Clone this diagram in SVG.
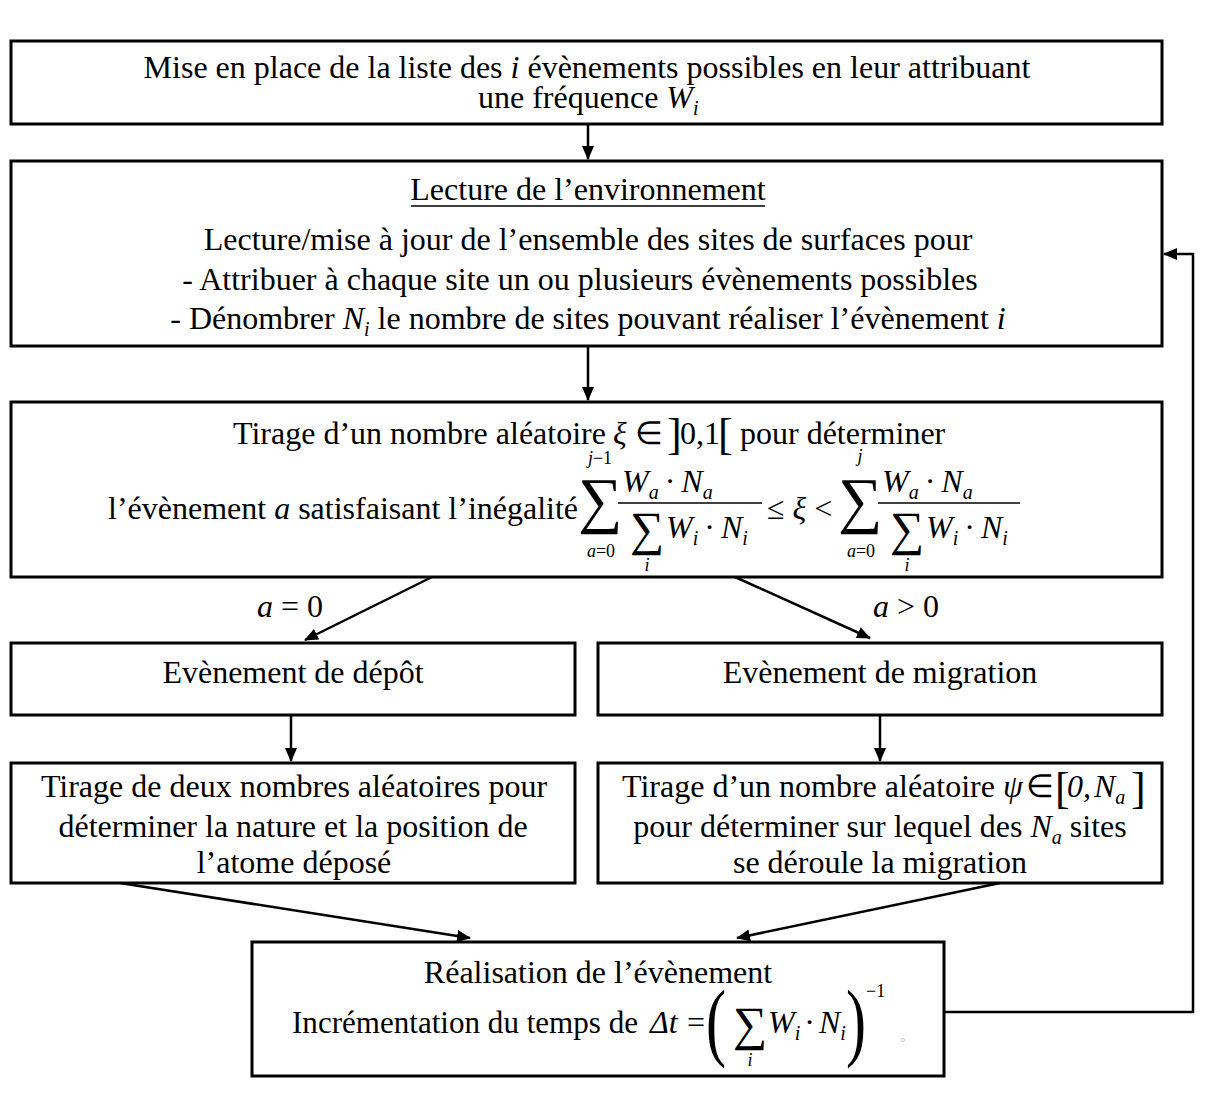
<svg xmlns="http://www.w3.org/2000/svg" width="1209" height="1101" viewBox="0 0 1209 1101">
  <style>
    .t { font-family: "Liberation Serif", "Times New Roman", serif; font-size: 32px; fill: #000; }
    .c { text-anchor: middle; }
    .i { font-style: italic; }
    .sub { font-size: 20px; }
    .lim { font-size: 18px; }
    .big { font-size: 44px; }
    .sum { font-size: 62px; }
    .sum2 { font-size: 48px; }
    .paren { font-size: 86px; }
    .box { fill: #fff; stroke: #000; stroke-width: 3; }
    .ln { fill: none; stroke: #000; stroke-width: 2.5; }
    .bar { stroke: #000; stroke-width: 1.6; }
  </style>
  <defs>
    <marker id="ah" markerWidth="14" markerHeight="12" refX="13" refY="6" orient="auto" markerUnits="userSpaceOnUse">
      <path d="M0,0 L14,6 L0,12 Z" fill="#000"/>
    </marker>
  </defs>

  <rect width="1209" height="1101" fill="#fff"/>

  <!-- connectors -->
  <g id="connectors">
    <line class="ln" x1="588" y1="124" x2="588" y2="159" marker-end="url(#ah)"/>
    <line class="ln" x1="588" y1="346" x2="588" y2="400" marker-end="url(#ah)"/>
    <line class="ln" x1="432" y1="577" x2="305" y2="640" marker-end="url(#ah)"/>
    <line class="ln" x1="735" y1="577" x2="870" y2="638" marker-end="url(#ah)"/>
    <line class="ln" x1="291" y1="715" x2="291" y2="761" marker-end="url(#ah)"/>
    <line class="ln" x1="880" y1="715" x2="880" y2="761" marker-end="url(#ah)"/>
    <line class="ln" x1="120" y1="883" x2="470" y2="938" marker-end="url(#ah)"/>
    <line class="ln" x1="1000" y1="883" x2="737" y2="938" marker-end="url(#ah)"/>
    <path class="ln" d="M945,1012 H1193 V254 H1164" marker-end="url(#ah)"/>
    <text class="t" x="257" y="617"><tspan class="i">a</tspan> = 0</text>
    <text class="t" x="873" y="617"><tspan class="i">a</tspan> &gt; 0</text>
  </g>

  <!-- step 1 -->
  <g id="n1">
    <rect class="box" x="11" y="41" width="1151" height="83"/>
    <text class="t c" x="587" y="78">Mise en place de la liste des <tspan class="i">i</tspan> évènements possibles en leur attribuant</text>
    <text class="t" x="478" y="108">une fréquence <tspan class="i">W</tspan><tspan class="i sub" dy="7">i</tspan></text>
  </g>

  <!-- step 2 -->
  <g id="n2">
    <rect class="box" x="11" y="161" width="1151" height="185"/>
    <text class="t c" x="588" y="200">Lecture de l’environnement</text>
    <line x1="411" y1="206" x2="765" y2="206" stroke="#000" stroke-width="1.6"/>
    <text class="t c" x="588" y="250">Lecture/mise à jour de l’ensemble des sites de surfaces pour</text>
    <text class="t c" x="580" y="290">- Attribuer à chaque site un ou plusieurs évènements possibles</text>
    <text class="t c" x="588" y="329">- Dénombrer <tspan class="i">N</tspan><tspan class="i sub" dy="7">i</tspan><tspan dy="-7"> le nombre de sites pouvant réaliser l’évènement </tspan><tspan class="i">i</tspan></text>
  </g>

  <!-- step 3 -->
  <g id="n3">
    <rect class="box" x="11" y="402" width="1151" height="175"/>
    <text class="t" x="233" y="444">Tirage d’un nombre aléatoire</text>
    <text class="t i" x="613" y="444">ξ</text>
    <text class="t" x="635" y="444">∈</text>
    <text class="t big" x="667" y="449">]</text>
    <text class="t" x="680" y="444">0,1</text>
    <text class="t big" x="718" y="449">[</text>
    <text class="t" x="740" y="444">pour déterminer</text>

    <text class="t" x="108" y="519">l’évènement <tspan class="i">a</tspan> satisfaisant l’inégalité</text>

    <!-- left sum -->
    <text class="t sum c" x="600" y="521">∑</text>
    <text class="t lim c" x="600" y="464"><tspan class="i">j</tspan>−1</text>
    <text class="t lim c" x="601" y="557"><tspan class="i">a</tspan>=0</text>
    <text class="t i" x="622" y="492">W<tspan class="sub" dy="7">a</tspan><tspan font-style="normal" dx="6" dy="-7">·</tspan><tspan dx="6">N</tspan><tspan class="sub" dy="7">a</tspan></text>
    <line class="bar" x1="618" y1="503" x2="762" y2="503"/>
    <text class="t sum2 c" x="647" y="545">∑</text>
    <text class="t lim c i" x="647" y="571">i</text>
    <text class="t i" x="666" y="538">W<tspan class="sub" dy="7">i</tspan><tspan font-style="normal" dx="6" dy="-7">·</tspan><tspan dx="6">N</tspan><tspan class="sub" dy="7">i</tspan></text>

    <text class="t" x="767" y="519">≤ <tspan class="i">ξ</tspan> &lt;</text>

    <!-- right sum -->
    <text class="t sum c" x="860" y="521">∑</text>
    <text class="t lim c i" x="860" y="462">j</text>
    <text class="t lim c" x="861" y="557"><tspan class="i">a</tspan>=0</text>
    <text class="t i" x="882" y="492">W<tspan class="sub" dy="7">a</tspan><tspan font-style="normal" dx="6" dy="-7">·</tspan><tspan dx="6">N</tspan><tspan class="sub" dy="7">a</tspan></text>
    <line class="bar" x1="878" y1="503" x2="1020" y2="503"/>
    <text class="t sum2 c" x="907" y="545">∑</text>
    <text class="t lim c i" x="907" y="571">i</text>
    <text class="t i" x="926" y="538">W<tspan class="sub" dy="7">i</tspan><tspan font-style="normal" dx="6" dy="-7">·</tspan><tspan dx="6">N</tspan><tspan class="sub" dy="7">i</tspan></text>
  </g>

  <!-- deposition branch -->
  <g id="n4">
    <rect class="box" x="11" y="643" width="564" height="72"/>
    <text class="t c" x="293" y="683">Evènement de dépôt</text>
  </g>

  <!-- migration branch -->
  <g id="n5">
    <rect class="box" x="598" y="643" width="564" height="72"/>
    <text class="t c" x="880" y="683">Evènement de migration</text>
  </g>

  <g id="n6">
    <rect class="box" x="11" y="763" width="564" height="120"/>
    <text class="t c" x="294" y="797">Tirage de deux nombres aléatoires pour</text>
    <text class="t c" x="293" y="837">déterminer la nature et la position de</text>
    <text class="t c" x="294" y="873">l’atome déposé</text>
  </g>

  <g id="n7">
    <rect class="box" x="598" y="763" width="564" height="120"/>
    <text class="t" x="622" y="797">Tirage d’un nombre aléatoire</text>
    <text class="t i" x="1003" y="797">ψ</text>
    <text class="t" x="1026" y="797">∈</text>
    <text class="t big" x="1055" y="803">[</text>
    <text class="t i" x="1067" y="797">0,</text>
    <text class="t i" x="1094" y="797">N<tspan class="sub" dy="7">a</tspan></text>
    <text class="t big" x="1131" y="803">]</text>
    <text class="t c" x="880" y="837">pour déterminer sur lequel des <tspan class="i">N</tspan><tspan class="i sub" dy="7">a</tspan><tspan dy="-7"> sites</tspan></text>
    <text class="t c" x="880" y="873">se déroule la migration</text>
  </g>

  <!-- event and time step -->
  <g id="n8">
    <rect class="box" x="252" y="942" width="692" height="134"/>
    <text class="t c" x="598" y="983">Réalisation de l’évènement</text>
    <text class="t" x="292" y="1033" textLength="346" lengthAdjust="spacingAndGlyphs">Incrémentation du temps de</text>
    <text class="t i" x="650" y="1033">Δt</text>
    <text class="t" x="687" y="1033">=</text>
    <text class="t paren" x="706" y="1050" transform="translate(706 0) scale(0.7 1) translate(-706 0)">(</text>
    <text class="t sum2 c" x="750" y="1040">∑</text>
    <text class="t lim c i" x="750" y="1066">i</text>
    <text class="t i" x="768" y="1033">W<tspan class="sub" dy="7">i</tspan><tspan font-style="normal" dx="4" dy="-7">·</tspan><tspan dx="4">N</tspan><tspan class="sub" dy="7">i</tspan></text>
    <text class="t paren" x="846" y="1050" transform="translate(846 0) scale(0.7 1) translate(-846 0)">)</text>
    <text class="t lim" x="866" y="997">−1</text>
    <circle cx="903" cy="1040" r="1.5" fill="none" stroke="#bbb" stroke-width="0.8"/>
  </g>
</svg>
